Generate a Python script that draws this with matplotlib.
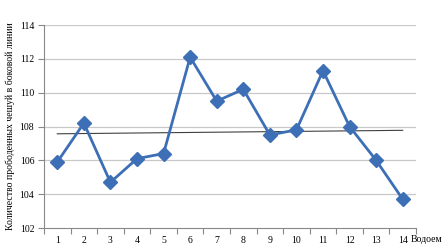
import numpy as np
import matplotlib
matplotlib.use("Agg")
import matplotlib.pyplot as plt

plt.rcParams["font.family"] = ["Liberation Serif", "DejaVu Serif"]

# data
ponds = np.arange(1, 15)
scales = [105.9, 108.2, 104.7, 106.1, 106.4, 112.1, 109.5, 110.2, 107.5, 107.8, 111.3, 108.0, 106.0, 103.7]
y_ticks = [102, 104, 106, 108, 110, 112, 114]

fig = plt.figure(figsize=(4.44, 2.5), dpi=100)
ax = fig.add_axes([44 / 444, 22 / 250, 372 / 444, 203 / 250])

for yv in y_ticks[1:]:
    ax.axhline(yv, color="#c8c8c8", lw=0.9, zorder=0)

ax.plot(ponds, scales, color="#3d6fb6", lw=2, marker="D", ms=7, zorder=3)

# linear trend line
k, b = np.polyfit(ponds, scales, 1)
ax.plot(ponds, k * ponds + b, color="#404040", lw=0.8, zorder=2)

ax.set_xlim(0.5, 14.5)
ax.set_ylim(102, 114)
ax.set_yticks(y_ticks)
ax.set_xticks(ponds)
ax.set_xticks(np.arange(0.5, 15, 1), minor=True)
ax.tick_params(axis="x", which="major", length=0, labelsize=7, pad=6)
ax.tick_params(axis="x", which="minor", length=4, color="#888888", width=0.8)
ax.tick_params(axis="y", length=4, color="#888888", width=0.8, labelsize=7, pad=3)
for s in ["top", "right"]:
    ax.spines[s].set_visible(False)
for s in ["left", "bottom"]:
    ax.spines[s].set_color("#888888")
    ax.spines[s].set_linewidth(0.8)

ax.set_ylabel("Количество прободенных чешуй в боковой линии", fontsize=7, labelpad=3)
fig.text(411 / 444, 1 - 239 / 250, "Водоем", fontsize=7, ha="left", va="center")

fig.savefig("out.png", dpi=100)
